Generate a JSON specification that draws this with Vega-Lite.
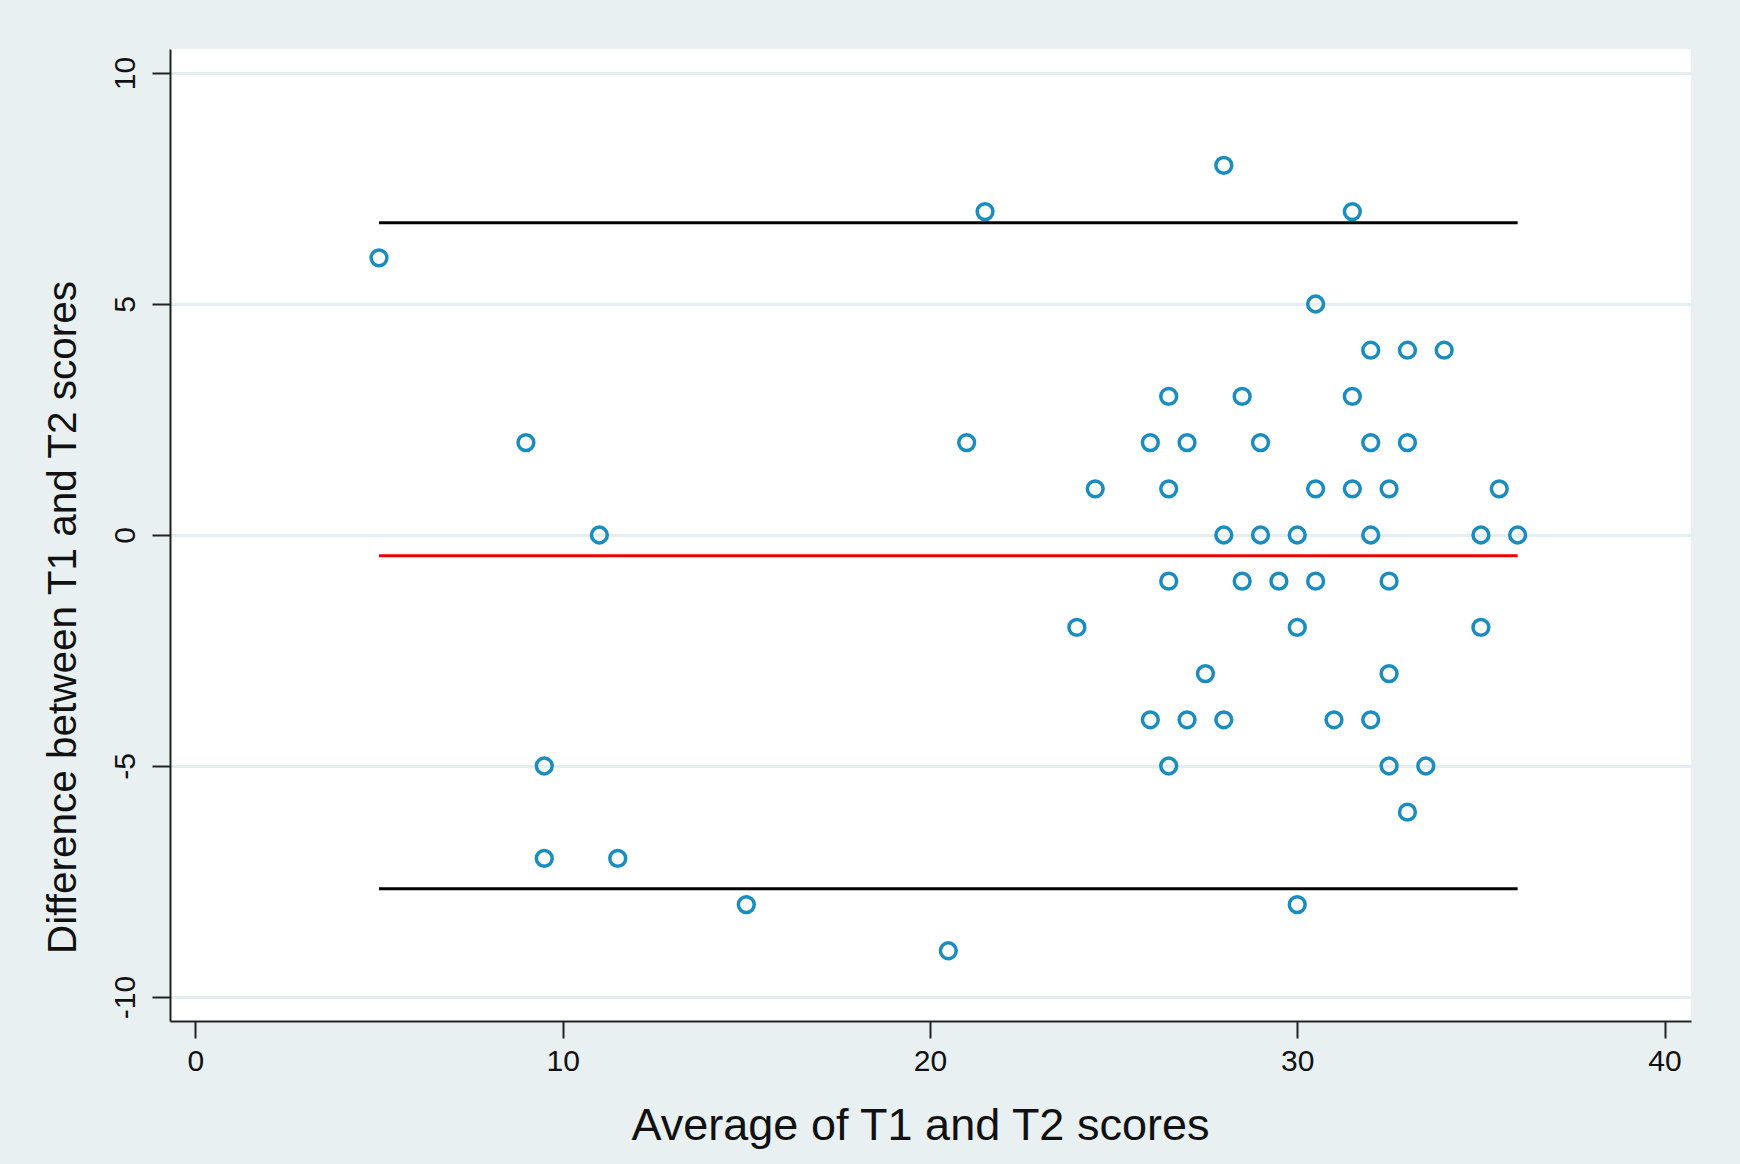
{
  "$schema": "https://vega.github.io/schema/vega-lite/v6.json",
  "autosize": "none",
  "width": 1521,
  "height": 972,
  "padding": {"left": 170, "top": 49, "right": 49, "bottom": 143},
  "background": "#E8F0F2",
  "config": {
    "view": {"fill": "white", "stroke": null},
    "font": "Liberation Sans"
  },
  "datasets": {
    "points": [
      {"avg": 5, "diff": 6}, {"avg": 9, "diff": 2}, {"avg": 11, "diff": 0},
      {"avg": 9.5, "diff": -5}, {"avg": 9.5, "diff": -7}, {"avg": 11.5, "diff": -7},
      {"avg": 15, "diff": -8}, {"avg": 20.5, "diff": -9}, {"avg": 21, "diff": 2},
      {"avg": 21.5, "diff": 7}, {"avg": 24.5, "diff": 1}, {"avg": 24, "diff": -2},
      {"avg": 26, "diff": 2}, {"avg": 26.5, "diff": 3}, {"avg": 26.5, "diff": 1},
      {"avg": 27, "diff": 2}, {"avg": 26.5, "diff": -1}, {"avg": 26, "diff": -4},
      {"avg": 27, "diff": -4}, {"avg": 26.5, "diff": -5}, {"avg": 27.5, "diff": -3},
      {"avg": 28, "diff": 8}, {"avg": 28.5, "diff": 3}, {"avg": 29, "diff": 2},
      {"avg": 28, "diff": 0}, {"avg": 29, "diff": 0}, {"avg": 28.5, "diff": -1},
      {"avg": 29.5, "diff": -1}, {"avg": 28, "diff": -4}, {"avg": 30, "diff": 0},
      {"avg": 30, "diff": -2}, {"avg": 30, "diff": -8}, {"avg": 30.5, "diff": 5},
      {"avg": 30.5, "diff": 1}, {"avg": 30.5, "diff": -1}, {"avg": 31.5, "diff": 7},
      {"avg": 31.5, "diff": 3}, {"avg": 31.5, "diff": 1}, {"avg": 31, "diff": -4},
      {"avg": 32, "diff": 4}, {"avg": 32, "diff": 2}, {"avg": 32, "diff": 0},
      {"avg": 32, "diff": -4}, {"avg": 32.5, "diff": 1}, {"avg": 32.5, "diff": -1},
      {"avg": 32.5, "diff": -3}, {"avg": 32.5, "diff": -5}, {"avg": 33, "diff": 4},
      {"avg": 33, "diff": 2}, {"avg": 33, "diff": -6}, {"avg": 33.5, "diff": -5},
      {"avg": 34, "diff": 4}, {"avg": 35, "diff": 0}, {"avg": 35, "diff": -2},
      {"avg": 35.5, "diff": 1}, {"avg": 36, "diff": 0}
    ],
    "lines": [
      {"x1": 5, "x2": 36, "y": 6.76, "kind": "upper"},
      {"x1": 5, "x2": 36, "y": -0.45, "kind": "mean"},
      {"x1": 5, "x2": 36, "y": -7.66, "kind": "lower"}
    ]
  },
  "layer": [
    {
      "data": {"name": "points"},
      "mark": {"type": "point", "shape": "circle", "filled": false, "color": "#1A8CBF", "strokeWidth": 3.5, "size": 250, "opacity": 1},
      "encoding": {
        "x": {
          "field": "avg", "type": "quantitative",
          "scale": {"domain": [-0.69, 40.72], "nice": false, "zero": false},
          "axis": {
            "title": "Average of T1 and T2 scores",
            "values": [0, 10, 20, 30, 40],
            "labelExpr": "toString(datum.value)",
            "grid": false,
            "domainColor": "#222222", "domainWidth": 2,
            "tickColor": "#222222", "tickWidth": 2, "tickSize": 17,
            "labelFontSize": 30, "labelColor": "#111111", "labelPadding": 8,
            "labelFlush": false,
            "titleFontSize": 45, "titleFontWeight": "normal", "titleColor": "#111111",
            "titleBaseline": "alphabetic", "titleY": 118, "titleX": 750, "titleAnchor": null, "titleAlign": "center"
          }
        },
        "y": {
          "field": "diff", "type": "quantitative",
          "scale": {"domain": [-10.52, 10.52], "nice": false, "zero": false},
          "axis": {
            "title": "Difference between T1 and T2 scores",
            "values": [-10, -5, 0, 5, 10],
            "labelExpr": "toString(datum.value)",
            "grid": true, "gridColor": "#E4EDF0", "gridWidth": 3,
            "domainColor": "#222222", "domainWidth": 2,
            "tickColor": "#222222", "tickWidth": 2, "tickSize": 18,
            "labelFontSize": 30, "labelColor": "#111111", "labelPadding": 12,
            "labelAngle": -90, "labelAlign": "center", "labelBaseline": "bottom",
            "labelFlush": false,
            "titleFontSize": 40.5, "titleFontWeight": "normal", "titleColor": "#111111",
            "titleAngle": -90, "titleBaseline": "alphabetic", "titleAlign": "center",
            "titleX": -95, "titleY": 568
          }
        }
      }
    },
    {
      "data": {"name": "lines"},
      "mark": {"type": "rule", "strokeWidth": 3},
      "encoding": {
        "x": {"field": "x1", "type": "quantitative"},
        "x2": {"field": "x2"},
        "y": {"field": "y", "type": "quantitative"},
        "color": {
          "field": "kind", "type": "nominal",
          "scale": {"domain": ["upper", "mean", "lower"], "range": ["#000000", "#E8000B", "#000000"]},
          "legend": null
        }
      }
    }
  ]
}
